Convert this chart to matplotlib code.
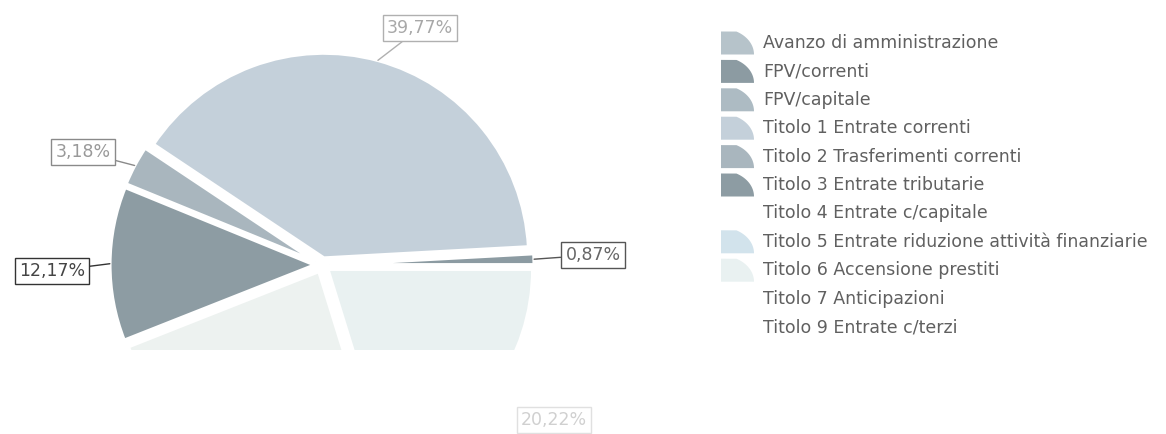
import numpy as np
import matplotlib
matplotlib.use("Agg")
import matplotlib.pyplot as plt
from matplotlib.patches import Polygon

# legend categories (in legend order) and their share in percent
categories = [
    "Avanzo di amministrazione",
    "FPV/correnti",
    "FPV/capitale",
    "Titolo 1 Entrate correnti",
    "Titolo 2 Trasferimenti correnti",
    "Titolo 3 Entrate tributarie",
    "Titolo 4 Entrate c/capitale",
    "Titolo 5 Entrate riduzione attività finanziarie",
    "Titolo 6 Accensione prestiti",
    "Titolo 7 Anticipazioni",
    "Titolo 9 Entrate c/terzi",
]
values = [0.0, 0.87, 0.0, 39.77, 3.18, 12.17, 0.0, 23.79, 20.22, 0.0, 0.0]
colors = ["#b6c3ca", "#8c9ba2", "#adbbc3", "#c4d0da", "#a9b6be", "#8d9ca3",
          "#ffffff", "#d2e3ec", "#e9f1f1", "#ffffff", "#ffffff"]
slice_colors = {"Titolo 5 Entrate riduzione attività finanziarie": "#edf2f0"}

# labels shown in the picture: category -> (label text, text colour, edge colour, text pos px from top-left)
shown_labels = {
    "FPV/correnti": ("0,87%", "#666666", "#555555", (593, 255)),
    "Titolo 1 Entrate correnti": ("39,77%", "#a8a8a8", "#b0b0b0", (420, 28)),
    "Titolo 2 Trasferimenti correnti": ("3,18%", "#999999", "#8a8a8a", (83, 152)),
    "Titolo 3 Entrate tributarie": ("12,17%", "#444444", "#333333", (52, 271)),
    "Titolo 6 Accensione prestiti": ("20,22%", "#d0d0d0", "#e0e0e0", (554, 420)),
}

W, H = 1166, 434
fig = plt.figure(figsize=(W / 100, H / 100), dpi=100)

# pie axes: centre at (322, 265) px, radius 205 px, cut at y=350 px
R = 205.0
cx, cy = 322.0, 265.0
bottom = 350.0
ax = fig.add_axes([0, (H - bottom) / H, 700 / W, bottom / H])

nz = [i for i, v in enumerate(values) if v > 0]
pie_vals = [values[i] for i in nz]
pie_cols = [slice_colors.get(categories[i], colors[i]) for i in nz]
wedges, _ = ax.pie(pie_vals, colors=pie_cols, startangle=0, counterclock=True,
                   explode=[0.035] * len(pie_vals), radius=1.0,
                   wedgeprops=dict(edgecolor="white", linewidth=2.5),
                   frame=True)
ax.set_xlim(-cx / R, (700 - cx) / R)
ax.set_ylim(-(bottom - cy) / R, cy / R)
ax.set_aspect("auto")
ax.axis("off")
for w in wedges:
    w.set_clip_on(True)
    w.set_clip_box(ax.bbox)

for w, i in zip(wedges, nz):
    name = categories[i]
    if name not in shown_labels:
        continue
    txt, tcol, ecol, (px, py) = shown_labels[name]
    ang = np.deg2rad((w.theta1 + w.theta2) / 2)
    cxw, cyw = w.center
    xy = (cxw + np.cos(ang), cyw + np.sin(ang))
    arrow = None if name.startswith("Titolo 6") else dict(arrowstyle="-", color=ecol, lw=1.0,
                                                          shrinkA=0, shrinkB=0)
    ax.annotate(txt, xy=xy, xytext=(px, H - py), textcoords="figure pixels",
                ha="center", va="center", fontsize=12.5, color=tcol,
                family="DejaVu Sans",
                bbox=dict(boxstyle="square,pad=0.25", fc="white", ec=ecol, lw=1.0),
                arrowprops=arrow, annotation_clip=False)

# legend drawn in pixel coordinates
lg = fig.add_axes([0, 0, 1, 1])
lg.set_xlim(0, W)
lg.set_ylim(H, 0)
lg.axis("off")
row0, step = 43.0, 28.4
mw, mh = 33.0, 23.0
for k, (name, col) in enumerate(zip(categories, colors)):
    yc = row0 + k * step
    x0, y0 = 721.0, yc + mh / 2
    t = np.linspace(0, np.deg2rad(62), 20)
    pts = [(x0, y0)] + [(x0 + mw * np.cos(a), y0 - 1.13 * mh * np.sin(a)) for a in t]
    pts += [(x0, y0 - mh)]
    lg.add_patch(Polygon(pts, closed=True, fc=col, ec="none"))
    lg.text(763, yc, name, fontsize=12.5, color="#606060", va="center", ha="left",
            family="DejaVu Sans")

fig.savefig("out.png", dpi=100, facecolor="white")
